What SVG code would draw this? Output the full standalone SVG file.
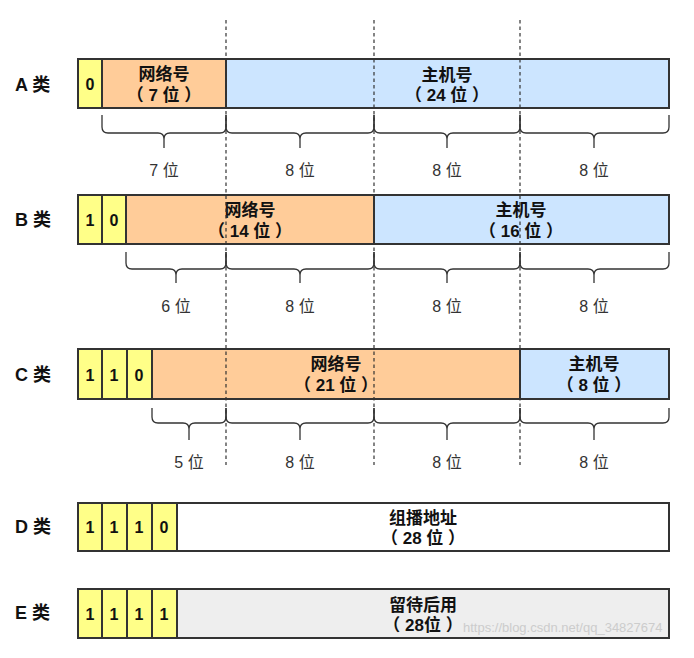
<svg xmlns="http://www.w3.org/2000/svg" width="694" height="658" viewBox="0 0 694 658">
<style>
text{font-family:"Liberation Sans","Noto Sans CJK SC",sans-serif;fill:#111;text-anchor:middle}
.lbl{font-size:18px;font-weight:bold;text-anchor:start}
.t{font-size:17px;font-weight:bold}
.bit{font-size:16px;font-weight:bold}
.w{font-size:16px;fill:#333}
.box{stroke:#333;stroke-width:2}
.y{fill:#ffff88}.o{fill:#ffcc99}.b{fill:#cce5ff}.g{fill:#eeeeee}.n{fill:#ffffff}
.br{fill:none;stroke:#333;stroke-width:1.3}
.dash{stroke:#333;stroke-width:1.2;stroke-dasharray:3.5 3}
.wm{font-size:13px;fill:#cccccc;text-anchor:start}
</style>
<rect width="694" height="658" fill="#ffffff"/>

<g id="rowA">
<text class="lbl" x="15" y="91">A 类</text>
<rect class="box y" x="78" y="59" width="24" height="49"/>
<rect class="box o" x="102" y="59" width="124" height="49"/>
<rect class="box b" x="226" y="59" width="443" height="49"/>
<text class="bit" x="90" y="90">0</text>
<text class="t" x="164" y="80">网络号</text>
<text class="t" x="164" y="101">（ 7 位 ）</text>
<text class="t" x="447" y="81">主机号</text>
<text class="t" x="447" y="101">（ 24 位 ）</text>
</g>

<g id="rowB">
<text class="lbl" x="15" y="226">B 类</text>
<rect class="box y" x="78" y="195" width="24" height="49"/>
<rect class="box y" x="102" y="195" width="24" height="49"/>
<rect class="box o" x="126" y="195" width="248" height="49"/>
<rect class="box b" x="374" y="195" width="295" height="49"/>
<text class="bit" x="90" y="226">1</text>
<text class="bit" x="114" y="226">0</text>
<text class="t" x="250" y="216">网络号</text>
<text class="t" x="250" y="237">（ 14 位 ）</text>
<text class="t" x="521" y="216">主机号</text>
<text class="t" x="521" y="237">（ 16 位 ）</text>
</g>

<g id="rowC">
<text class="lbl" x="15" y="381">C 类</text>
<rect class="box y" x="78" y="349" width="24" height="50"/>
<rect class="box y" x="102" y="349" width="25" height="50"/>
<rect class="box y" x="127" y="349" width="25" height="50"/>
<rect class="box o" x="152" y="349" width="368" height="50"/>
<rect class="box b" x="520" y="349" width="149" height="50"/>
<text class="bit" x="90" y="381">1</text>
<text class="bit" x="114" y="381">1</text>
<text class="bit" x="139" y="381">0</text>
<text class="t" x="336" y="370">网络号</text>
<text class="t" x="336" y="391">（ 21 位 ）</text>
<text class="t" x="594" y="370">主机号</text>
<text class="t" x="594" y="391">（ 8 位 ）</text>
</g>

<g id="rowD">
<text class="lbl" x="15" y="533">D 类</text>
<rect class="box y" x="78" y="503" width="24" height="48"/>
<rect class="box y" x="102" y="503" width="25" height="48"/>
<rect class="box y" x="127" y="503" width="25" height="48"/>
<rect class="box y" x="152" y="503" width="25" height="48"/>
<rect class="box n" x="177" y="503" width="492" height="48"/>
<text class="bit" x="90" y="533">1</text>
<text class="bit" x="114" y="533">1</text>
<text class="bit" x="139" y="533">1</text>
<text class="bit" x="164" y="533">0</text>
<text class="t" x="423" y="524">组播地址</text>
<text class="t" x="423" y="544">（ 28 位 ）</text>
</g>

<g id="rowE">
<text class="lbl" x="15" y="619">E 类</text>
<rect class="box y" x="78" y="589" width="24" height="49"/>
<rect class="box y" x="102" y="589" width="25" height="49"/>
<rect class="box y" x="127" y="589" width="25" height="49"/>
<rect class="box y" x="152" y="589" width="25" height="49"/>
<rect class="box g" x="177" y="589" width="492" height="49"/>
<text class="bit" x="90" y="620">1</text>
<text class="bit" x="114" y="620">1</text>
<text class="bit" x="139" y="620">1</text>
<text class="bit" x="164" y="620">1</text>
<text class="t" x="423" y="611">留待后用</text>
<text class="t" x="423" y="631">（ 28位 ）</text>
<text class="wm" x="463" y="632">https://blog.csdn.net/qq_34827674</text>
</g>

<g id="connectors">
<line class="dash" x1="226" y1="20" x2="226" y2="465"/>
<line class="dash" x1="374" y1="20" x2="374" y2="465"/>
<line class="dash" x1="520" y1="20" x2="520" y2="465"/>

<path class="br" d="M102,115 V127 Q102,133 108,133 H158 Q164,133 164,139 V148 M164,139 Q164,133 170,133 H220 Q226,133 226,127 V115"/>
<path class="br" d="M226,115 V127 Q226,133 232,133 H294 Q300,133 300,139 V148 M300,139 Q300,133 306,133 H368 Q374,133 374,127 V115"/>
<path class="br" d="M374,115 V127 Q374,133 380,133 H441 Q447,133 447,139 V148 M447,139 Q447,133 453,133 H514 Q520,133 520,127 V115"/>
<path class="br" d="M520,115 V127 Q520,133 526,133 H588 Q594,133 594,139 V148 M594,139 Q594,133 600,133 H663 Q669,133 669,127 V115"/>

<path class="br" d="M126,252 V263 Q126,269 132,269 H170 Q176,269 176,275 V283 M176,275 Q176,269 182,269 H220 Q226,269 226,263 V252"/>
<path class="br" d="M226,252 V263 Q226,269 232,269 H294 Q300,269 300,275 V283 M300,275 Q300,269 306,269 H368 Q374,269 374,263 V252"/>
<path class="br" d="M374,252 V263 Q374,269 380,269 H441 Q447,269 447,275 V283 M447,275 Q447,269 453,269 H514 Q520,269 520,263 V252"/>
<path class="br" d="M520,252 V263 Q520,269 526,269 H588 Q594,269 594,275 V283 M594,275 Q594,269 600,269 H663 Q669,269 669,263 V252"/>

<path class="br" d="M152,408 V417 Q152,423 158,423 H183 Q189,423 189,429 V440 M189,429 Q189,423 195,423 H220 Q226,423 226,417 V408"/>
<path class="br" d="M226,408 V417 Q226,423 232,423 H294 Q300,423 300,429 V440 M300,429 Q300,423 306,423 H368 Q374,423 374,417 V408"/>
<path class="br" d="M374,408 V417 Q374,423 380,423 H441 Q447,423 447,429 V440 M447,429 Q447,423 453,423 H514 Q520,423 520,417 V408"/>
<path class="br" d="M520,408 V417 Q520,423 526,423 H588 Q594,423 594,429 V440 M594,429 Q594,423 600,423 H663 Q669,423 669,417 V408"/>
</g>

<g id="bitlabels">
<text class="w" x="164" y="176">7 位</text>
<text class="w" x="300" y="176">8 位</text>
<text class="w" x="447" y="176">8 位</text>
<text class="w" x="594" y="176">8 位</text>
<text class="w" x="176" y="312">6 位</text>
<text class="w" x="300" y="312">8 位</text>
<text class="w" x="447" y="312">8 位</text>
<text class="w" x="594" y="312">8 位</text>
<text class="w" x="189" y="468">5 位</text>
<text class="w" x="300" y="468">8 位</text>
<text class="w" x="447" y="468">8 位</text>
<text class="w" x="594" y="468">8 位</text>
</g>
</svg>
